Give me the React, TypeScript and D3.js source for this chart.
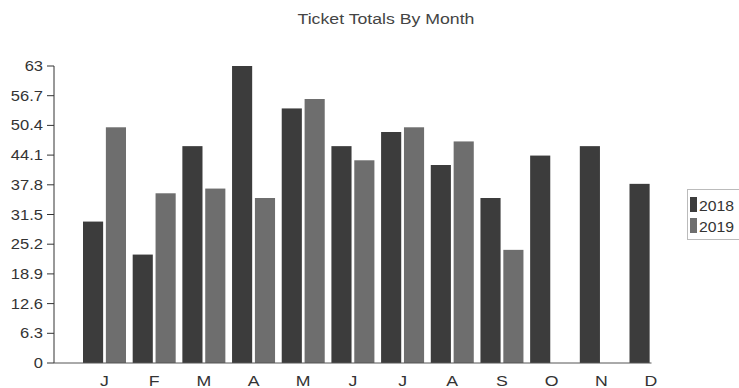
import React from 'react';
import * as d3 from 'd3';

const months = ['J', 'F', 'M', 'A', 'M ', 'J ', 'J  ', 'A ', 'S', 'O', 'N', 'D'];
const monthLabels = ['J', 'F', 'M', 'A', 'M', 'J', 'J', 'A', 'S', 'O', 'N', 'D'];
const years = ['2018', '2019'];
const totals2018 = [30, 23, 46, 63, 54, 46, 49, 42, 35, 44, 46, 38];
const totals2019 = [50, 36, 37, 35, 56, 43, 50, 47, 24, 0, 0, 0];
const yTicks = [0, 6.3, 12.6, 18.9, 25.2, 31.5, 37.8, 44.1, 50.4, 56.7, 63];
const yTickLabels = ['0', '6.3', '12.6', '18.9', '25.2', '31.5', '37.8', '44.1', '50.4', '56.7', '63'];
const colors = ['#3c3c3c', '#6e6e6e'];

const W = 739;
const H = 388;
const font = '"Liberation Sans", Arial, sans-serif';
const SX = 1.18; // the scan is a bit wider than it is tall

function Label({ x, y, size, anchor = 'start', fill = '#333', sx = SX, children }: any) {
  return (
    <g transform={`translate(${x},${y}) scale(${sx},1)`}>
      <text textAnchor={anchor} fontFamily={font} fontSize={size} fill={fill}>
        {children}
      </text>
    </g>
  );
}

export default function App() {
  const axisX = 54;
  const y = d3.scaleLinear().domain([0, 63]).range([363, 66]);
  const x0 = d3.scalePoint<string>().domain(months).range([104.5, 651]);
  const x1 = d3.scaleBand<string>().domain(years).range([-21.5, 21.5]).paddingInner(0.12);
  const series = [totals2018, totals2019];

  return (
    <svg width={W} height={H} style={{ position: 'absolute', left: 0, top: 0, background: '#fff' }}>
      <Label x={386} y={24} size={15} anchor="middle" fill="#444">
        Ticket Totals By Month
      </Label>

      {/* bars */}
      {months.map((m, i) => (
        <g key={m} transform={`translate(${x0(m)},0)`}>
          {years.map((yr, k) => {
            const v = series[k][i];
            if (!v) return null;
            return (
              <rect
                key={yr}
                x={x1(yr)}
                y={y(v)}
                width={x1.bandwidth()}
                height={y(0) - y(v)}
                fill={colors[k]}
              />
            );
          })}
        </g>
      ))}

      {/* y axis */}
      <line x1={axisX} x2={axisX} y1={y(63)} y2={y(0)} stroke="#333" strokeWidth={1} />
      {yTicks.map((t, i) => (
        <g key={t}>
          <line x1={axisX - 7} x2={axisX} y1={y(t)} y2={y(t)} stroke="#333" strokeWidth={1} />
          <Label x={axisX - 11} y={y(t) + 5} size={14} anchor="end">
            {yTickLabels[i]}
          </Label>
        </g>
      ))}

      {/* x axis */}
      <line x1={axisX} x2={651.5} y1={y(0)} y2={y(0)} stroke="#555" strokeWidth={1} />
      {months.map((m, i) => (
        <Label key={m} x={x0(m)} y={386} size={15} anchor="middle">
          {monthLabels[i]}
        </Label>
      ))}

      {/* legend */}
      <rect x={687.5} y={189.5} width={60} height={50} fill="#fff" stroke="#bbb" />
      {years.map((yr, k) => (
        <g key={yr} transform={`translate(690,${197 + k * 21})`}>
          <rect width={7} height={15} fill={colors[k]} />
          <Label x={9} y={14} size={15} sx={1.05}>
            {yr}
          </Label>
        </g>
      ))}
    </svg>
  );
}
